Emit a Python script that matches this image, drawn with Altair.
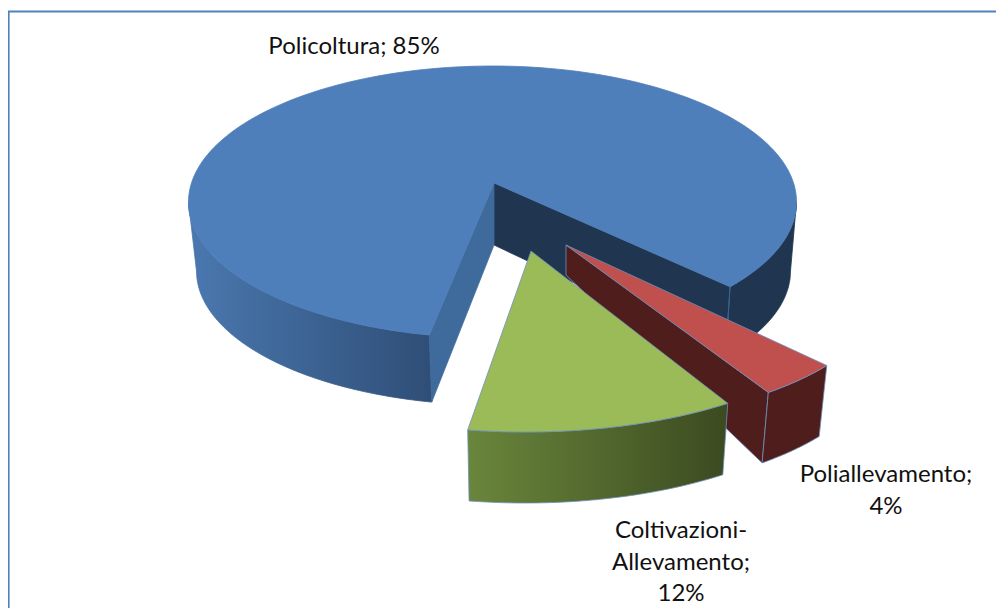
import numpy as np
import pandas as pd
import altair as alt

# ---- chart values ----
categories = ["Policoltura", "Poliallevamento", "Coltivazioni-\nAllevamento"]
shares = [85, 4, 12]
label_seps = [" ", "\n", "\n"]

# ---- picture geometry (page pixels) ----
W, H = 988, 600
ELL = {
    "Policoltura": dict(apex=(494, 183), apex_b=(494, 245), top=(492.5, 202, 304, 136), bot=(493.5, 271, 297, 134),
                        start=102.0, stretch=0.979),
    "Coltivazioni-\nAllevamento": dict(apex=(531, 251), apex_b=(531, 320), top=(525, 296, 330, 136), bot=(525, 369, 322, 134),
                        start=100.0, stretch=1.12),
    "Poliallevamento": dict(apex=(566, 245), apex_b=(566, 275), top=(554, 289, 330, 136), bot=(553, 361, 322, 134),
                        start=49.5, stretch=1.07),
}
label_pos = {"Policoltura": (354, 35), "Poliallevamento": (886, 463), "Coltivazioni-\nAllevamento": (681, 519)}
border_x = [8.6, 8.6, 1010]
border_y = [640, 11.6, 11.6]

xs = alt.Scale(domain=[8, 8 + W], range=[0, W])
ys = alt.Scale(domain=[8, 8 + H], range=[0, H])
total = sum(shares)


def sweep(cat):
    return shares[categories.index(cat)] / total * 360 * ELL[cat]["stretch"]


def arc(e, a0, a1, n=80):
    t = np.radians(np.linspace(a0, a1, n))
    cx, cy, a, b = e
    return list(zip(cx + a * np.cos(t), cy + b * np.sin(t)))


def poly(pts, fill, stroke=None, sw=0.8):
    pts = list(pts) + [pts[0]]
    df = pd.DataFrame({"x": [p[0] for p in pts], "y": [p[1] for p in pts], "i": range(len(pts))})
    return alt.Chart(df).mark_line(
        fill=fill, stroke=stroke if stroke else fill, strokeWidth=sw, interpolate="linear", clip=False
    ).encode(
        x=alt.X("x:Q", scale=xs, axis=None),
        y=alt.Y("y:Q", scale=ys, axis=None),
        order="i:Q",
    )


def hgrad(c0, c1):
    return alt.Gradient(gradient="linear", x1=0, x2=1, y1=0, y2=0,
                        stops=[alt.GradientStop(color=c0, offset=0), alt.GradientStop(color=c1, offset=1)])


EDGE = "#6d8fbc"
layers = []

# blue
c = categories[0]; g = ELL[c]; s0 = g["start"]; s1 = s0 + sweep(c)
end = s1 - 360
tE, bE = arc(g["top"], end, end, 1)[0], arc(g["bot"], end, end, 1)[0]
tS, bS = arc(g["top"], s0, s0, 1)[0], arc(g["bot"], s0, s0, 1)[0]
layers.append(poly(arc(g["top"], s0, 180) + arc(g["bot"], 180, s0), hgrad("#4a78af", "#2f4e77")))
layers.append(poly(arc(g["top"], 0, end) + arc(g["bot"], end, 0), "#1f3550"))
layers.append(poly([g["apex"], tE, bE, g["apex_b"]], "#1f3550"))
layers.append(poly([tE, bE], "#3d628f", sw=1))
layers.append(poly([g["apex"], tS, bS, g["apex_b"]], "#3f6b9c"))
layers.append(poly([g["apex"]] + arc(g["top"], s0, s1, 200), "#4f7fba"))

# red
c = categories[1]; g = ELL[c]; s0 = g["start"]; s1 = s0 - sweep(c)
tS, bS = arc(g["top"], s0, s0, 1)[0], arc(g["bot"], s0, s0, 1)[0]
layers.append(poly([g["apex"], tS, bS, g["apex_b"]], "#4f1e1c", EDGE))
layers.append(poly(arc(g["top"], s1, s0, 20) + arc(g["bot"], s0, s1, 20), "#4f1e1c", EDGE))
layers.append(poly([g["apex"]] + arc(g["top"], s0, s1, 20), "#c0504d", EDGE))

# green
c = categories[2]; g = ELL[c]; s0 = g["start"]; s1 = s0 - sweep(c)
layers.append(poly(arc(g["top"], s1, s0, 60) + arc(g["bot"], s0, s1, 60), hgrad("#6a863c", "#3b4a20"), EDGE))
layers.append(poly([g["apex"]] + arc(g["top"], s0, s1, 60), "#9bbb59", EDGE))

# labels
lab = pd.DataFrame({
    "text": [f"{c};{sep}{v}%" for c, v, sep in zip(categories, shares, label_seps)],
    "x": [label_pos[c][0] for c in categories],
    "y": [label_pos[c][1] for c in categories],
})
labels = alt.Chart(lab).mark_text(
    font="Lato", fontSize=24, color="#111111", align="center", baseline="top", lineBreak="\n", lineHeight=31.7
).encode(x=alt.X("x:Q", scale=xs, axis=None), y=alt.Y("y:Q", scale=ys, axis=None), text="text:N")

bdf = pd.DataFrame({"x": border_x, "y": border_y, "i": range(len(border_x))})
border = alt.Chart(bdf).mark_line(stroke="#4f81bd", strokeWidth=2, clip=True).encode(
    x=alt.X("x:Q", scale=xs, axis=None),
    y=alt.Y("y:Q", scale=ys, axis=None), order="i:Q")

chart = alt.layer(border, *layers, labels).properties(
    width=W, height=H, padding=0, autosize=alt.AutoSizeParams(type="none"), background="white"
).configure_view(stroke=None)

chart.save("out.html", embed_options={"renderer": "svg", "actions": False})
